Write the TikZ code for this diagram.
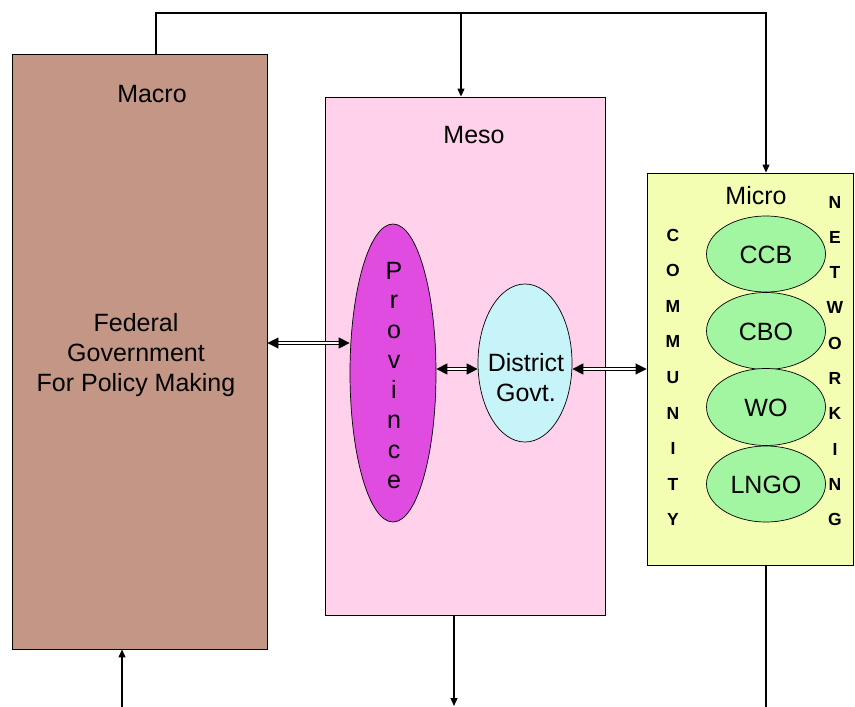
\documentclass[tikz,border=0pt]{standalone}
\usepackage{fontspec}
\setmainfont{Liberation Sans}
\usetikzlibrary{arrows.meta,shapes.geometric}
\definecolor{macrofill}{HTML}{C49686}
\definecolor{mesofill}{HTML}{FFD1EA}
\definecolor{microfill}{HTML}{F4FEB2}
\definecolor{provfill}{HTML}{E04CE0}
\definecolor{distfill}{HTML}{C6F4F8}
\definecolor{orgfill}{HTML}{A2F6A2}
\tikzset{
  txt/.style={font=\fontsize{25}{30}\selectfont, inner sep=0pt, align=center},
  vlet/.style={font=\fontsize{17.5}{19}\bfseries\selectfont, inner sep=0pt, anchor=base},
  panel/.style={draw, line width=0.9pt, rectangle, inner sep=0pt},
  blob/.style={draw, line width=0.7pt, ellipse, inner sep=0pt},
  flow/.style={line width=1.2pt, -{Triangle[length=8pt,width=7pt]}},
  link/.style={line width=1.2pt},
  dbl/.style={double, double distance=1.3pt, line width=0.9pt,
    {Triangle[length=11pt,width=11pt]}-{Triangle[length=11pt,width=11pt]}}
}
\begin{document}
\begin{tikzpicture}[x=1pt,y=-1pt]
\useasboundingbox (0,0) rectangle (855,707);
\fill[white] (0,0) rectangle (855,707);

% three level panels
\node[panel, fill=macrofill, minimum width=255, minimum height=595] (macro) at (139.5,351.5) {};
\node[panel, fill=mesofill, minimum width=280, minimum height=518] (meso) at (465,356) {};
\node[panel, fill=microfill, minimum width=206, minimum height=392] (micro) at (750,369) {};

% panel titles and text
\node[txt] (macrot) at (152,94) {Macro};
\node[txt] (fed) at (136,355) {Federal\\Government\\For Policy Making};
\node[txt] (mesot) at (474,135) {Meso};
\node[txt] (microt) at (756,196) {Micro};

% meso level
\node[blob, fill=provfill, minimum width=86, minimum height=298] (province) at (393,373) {};
\foreach \c [count=\i from 0] in {P,r,o,v,i,n,c,e}
  \node[txt, anchor=base] (prov\i) at (394,{279+\i*29.9}) {\c};
\node[blob, fill=distfill, minimum width=94, minimum height=158] (district) at (525,363) {};
\node[txt] (distt) at (526,378) {District\\Govt.};

% micro level organisations
\node[blob, fill=orgfill, minimum width=119, minimum height=76] (ccb) at (766,254) {};
\node[blob, fill=orgfill, minimum width=119, minimum height=77] (cbo) at (766,331) {};
\node[blob, fill=orgfill, minimum width=119, minimum height=77] (wo) at (766,407) {};
\node[blob, fill=orgfill, minimum width=119, minimum height=76] (lngo) at (766,484) {};
\node[txt] (ccbt) at (766,255) {CCB};
\node[txt] (cbot) at (766,332) {CBO};
\node[txt] (wot) at (766,408) {WO};
\node[txt] (lngot) at (766,485) {LNGO};

\foreach \c [count=\i from 0] in {C,O,M,M,U,N,I,T,Y}
  \node[vlet] (com\i) at (673,{241+\i*35.6}) {\c};
\foreach \c [count=\i from 0] in {N,E,T,W,O,R,K,I,N,G}
  \node[vlet] (net\i) at (835,{208+\i*35.3}) {\c};

% two-way links between levels
\coordinate (y1) at (0,343);
\coordinate (y2) at (0,369);
\draw[dbl] (macro.east |- y1) -- (province.west |- y1);
\draw[dbl] (province.east |- y2) -- (district.west |- y2);
\draw[dbl] (district.east |- y2) -- (micro.west |- y2);

% top feedback line
\coordinate (topL) at (156,13);
\coordinate (topM) at (461,13);
\coordinate (topR) at (766,13);
\draw[flow] (macro.north -| topL) -- (topL) -- (topR) -- (micro.north -| topR);
\draw[flow] (topM) -- (meso.north -| topM);

% bottom lines
\coordinate (botL) at (122,707);
\coordinate (botM) at (454,706);
\coordinate (botR) at (766,707);
\draw[flow] (botL) -- (macro.south -| botL);
\draw[flow] (meso.south -| botM) -- (botM);
\draw[link] (micro.south -| botR) -- (botR);
\end{tikzpicture}
\end{document}
